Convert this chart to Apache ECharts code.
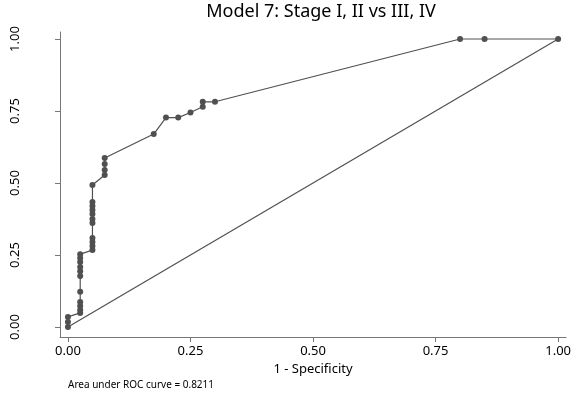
<!DOCTYPE html>
<html>
<head>
<meta charset="utf-8">
<script src="https://cdn.jsdelivr.net/npm/echarts@6/dist/echarts.min.js"></script>
<style>
  html, body { margin: 0; padding: 0; background: #fff; }
  #chart { width: 574px; height: 395px; }
</style>
</head>
<body>
<div id="chart"></div>
<script>
// ROC points (1 - specificity, sensitivity)
const fpr = [
  0, 0, 0,
  0.025, 0.025, 0.025, 0.025, 0.025, 0.025, 0.025, 0.025, 0.025, 0.025, 0.025,
  0.05, 0.05, 0.05, 0.05, 0.05, 0.05, 0.05, 0.05, 0.05, 0.05, 0.05,
  0.075, 0.075, 0.075, 0.075,
  0.175, 0.2, 0.225, 0.25, 0.275, 0.275, 0.3,
  0.8, 0.85, 1.0
];
const tpr = [
  0, 0.017, 0.035,
  0.049, 0.059, 0.073, 0.087, 0.122, 0.177, 0.194, 0.208, 0.226, 0.240, 0.253,
  0.267, 0.281, 0.295, 0.309, 0.361, 0.375, 0.392, 0.406, 0.420, 0.434, 0.493,
  0.528, 0.545, 0.566, 0.587,
  0.670, 0.727, 0.727, 0.745, 0.765, 0.782, 0.782,
  1.0, 1.0, 1.0
];
const refLine = [[0, 0], [1, 1]];
const tickValues = [0, 0.25, 0.5, 0.75, 1];

const titleText = "Model 7: Stage I, II vs III, IV";
const xName = "1 - Specificity";
const noteText = "Area under ROC curve = 0.8211";

const ink = "#505050";
const axisGray = "#777777";
const font = "Noto Sans";

const chart = echarts.init(document.getElementById("chart"));

chart.setOption({
  animation: false,
  backgroundColor: "#fff",
  title: [
    {
      text: titleText,
      left: 316,
      textAlign: "center",
      top: -2,
      textStyle: { fontFamily: font, fontSize: 18, fontWeight: "normal", color: "#000" },
    },
    {
      text: noteText,
      left: 63,
      top: 375,
      textStyle: { fontFamily: font, fontSize: 10, fontWeight: "normal", color: "#000" },
    },
  ],
  grid: { left: 60, right: 5, top: 32, bottom: 58 },
  xAxis: {
    type: "value",
    min: -0.0162,
    max: 1.0162,
    name: xName,
    nameLocation: "middle",
    nameGap: 20,
    nameTextStyle: { fontFamily: font, fontSize: 13, color: "#000" },
    axisLine: { show: true, onZero: false, lineStyle: { color: axisGray, width: 1 } },
    axisTick: { show: true, length: 5, customValues: tickValues, lineStyle: { color: axisGray } },
    axisLabel: {
      customValues: tickValues,
      margin: 8,
      fontFamily: font,
      fontSize: 13,
      color: "#000",
      formatter: (v) => v.toFixed(2),
    },
    splitLine: { show: false },
  },
  yAxis: {
    type: "value",
    min: -0.0347,
    max: 1.0243,
    axisLine: { show: true, onZero: false, lineStyle: { color: axisGray, width: 1 } },
    axisTick: { show: true, length: 5, customValues: tickValues, lineStyle: { color: axisGray } },
    axisLabel: {
      customValues: tickValues,
      rotate: 90,
      margin: 38,
      fontFamily: font,
      fontSize: 13,
      color: "#000",
      formatter: (v) => v.toFixed(2),
    },
    splitLine: { show: false },
  },
  series: [
    {
      type: "line",
      data: refLine,
      symbol: "none",
      lineStyle: { color: ink, width: 1.2 },
      silent: true,
    },
    {
      type: "line",
      data: fpr.map((x, i) => [x, tpr[i]]),
      symbol: "circle",
      symbolSize: 6,
      itemStyle: { color: ink },
      lineStyle: { color: ink, width: 1.2 },
    },
  ],
});
</script>
</body>
</html>
